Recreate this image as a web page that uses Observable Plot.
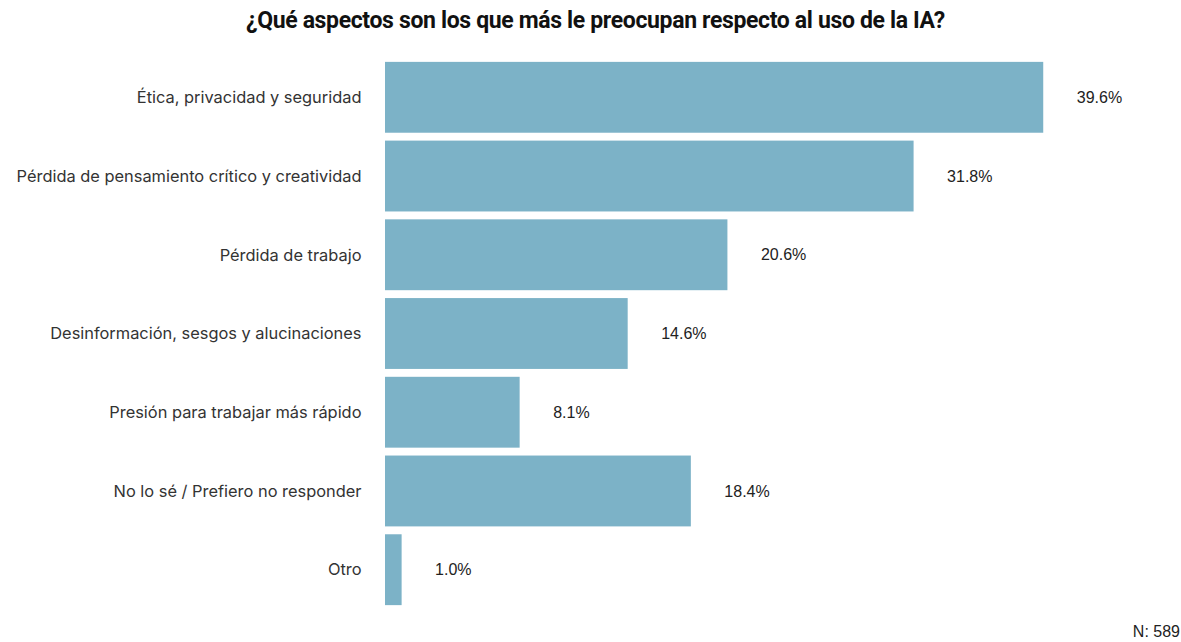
<!DOCTYPE html>
<html><head><meta charset="utf-8">
<script src="https://cdn.jsdelivr.net/npm/d3@7"></script>
<script src="https://cdn.jsdelivr.net/npm/@observablehq/plot@0.6"></script>
<style>
body{margin:0;background:#fff;}
#wrap{position:relative;width:1181px;height:642px;overflow:hidden;}
#title{position:absolute;left:5px;top:7px;width:1181px;text-align:center;font-family:Roboto,sans-serif;font-weight:bold;font-size:23px;color:#111;letter-spacing:-0.35px;}
#note{position:absolute;right:1px;top:623px;font-family:"Liberation Sans",Arial,sans-serif;font-size:16px;color:#222;}
#chart{position:absolute;left:0;top:0;}
</style></head>
<body><div id="wrap">
<div id="chart"></div>
<div id="title">¿Qué aspectos son los que más le preocupan respecto al uso de la IA?</div>
<div id="note">N: 589</div>
</div>
<script>
const categories = ["Ética, privacidad y seguridad","Pérdida de pensamiento crítico y creatividad","Pérdida de trabajo","Desinformación, sesgos y alucinaciones","Presión para trabajar más rápido","No lo sé / Prefiero no responder","Otro"];
const values = [39.6, 31.8, 20.6, 14.6, 8.1, 18.4, 1.0];
const data = categories.map((c,i)=>({cat:c, v:values[i]}));
const chart = Plot.plot({
  width:1181, height:642,
  marginLeft:385, marginRight:48, marginTop:54, marginBottom:29,
  x:{domain:[0,45], axis:null},
  y:{domain:categories, axis:null, padding:0.1, round:false},
  marks:[
    Plot.barX(data,{x:"v", y:"cat", fill:"#7cb2c7"}),
    Plot.text(data,{x:0, y:"cat", text:"cat", textAnchor:"end", dx:-24, fontSize:16.4, fill:"#333", fontFamily:"Inter, sans-serif"}),
    Plot.text(data,{x:"v", y:"cat", text:d=>d.v.toFixed(1)+"%", textAnchor:"start", dx:33, fontSize:16, fill:"#222", fontFamily:"Liberation Sans, Arial, sans-serif"})
  ]
});
document.getElementById("chart").appendChild(chart);
</script>
</body></html>
